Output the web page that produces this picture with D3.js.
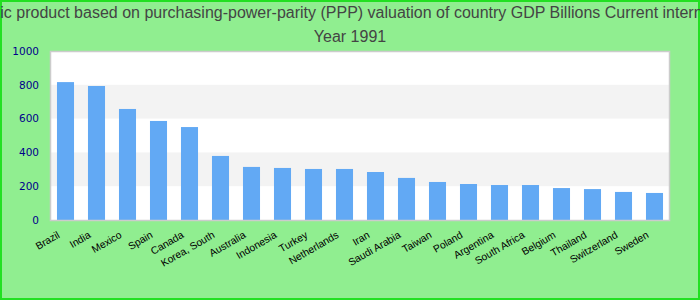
<!DOCTYPE html>
<html><head><meta charset="utf-8">
<script src="https://cdn.jsdelivr.net/npm/d3@7"></script>
<style>body{margin:0;padding:0;overflow:hidden}</style>
</head><body>
<svg id="c" width="700" height="300"></svg>
<script>
const titleLines = ["Gross domestic product based on purchasing-power-parity (PPP) valuation of country GDP Billions Current international dollar", "Year 1991"];
const categories = ["Brazil","India","Mexico","Spain","Canada","Korea, South","Australia","Indonesia","Turkey","Netherlands","Iran","Saudi Arabia","Taiwan","Poland","Argentina","South Africa","Belgium","Thailand","Switzerland","Sweden"];
const values = [816,793,657,586,550,379,314,308,302,302,284,249,225,213,207,207,189,183,166,160];
const yTicks = [0,200,400,600,800,1000];

const W=700,H=300;
const m={left:50,right:30,top:51,bottom:80};
const svg=d3.select("#c");
svg.append("rect").attr("x",1).attr("y",1).attr("width",W-2).attr("height",H-2)
  .attr("fill","#90ee90").attr("stroke","#22e022").attr("stroke-width",2);

const x=d3.scaleBand().domain(categories).range([m.left,W-m.right]).paddingInner(0.45).paddingOuter(0.225);
const y=d3.scaleLinear().domain([0,1000]).range([H-m.bottom,m.top]);

const g=svg.append("g");
g.append("rect").attr("x",m.left).attr("y",m.top).attr("width",W-m.left-m.right).attr("height",y(0)-m.top).attr("fill","#fff");
for(let i=0;i<yTicks.length-1;i++){
  if(i%2===1){
    g.append("rect").attr("x",m.left).attr("width",W-m.left-m.right)
     .attr("y",y(yTicks[i+1])).attr("height",y(yTicks[i])-y(yTicks[i+1])).attr("fill","#f3f3f3");
  }
}
g.selectAll(".bar").data(values).join("rect").attr("class","bar")
  .attr("x",(d,i)=>x(categories[i])).attr("width",x.bandwidth())
  .attr("y",d=>y(d)).attr("height",d=>y(0)-y(d)).attr("fill","#62a9f4");
g.append("rect").attr("x",m.left+0.5).attr("y",m.top+0.5).attr("width",W-m.left-m.right-1).attr("height",y(0)-m.top)
  .attr("fill","none").attr("stroke","#cccccc").attr("stroke-width",1.5);

const ya=d3.axisLeft(y).tickValues(yTicks).tickFormat(d3.format("d")).tickSize(0).tickPadding(11);
const yg=svg.append("g").attr("transform",`translate(${m.left},0)`).call(ya);
yg.select(".domain").remove();
yg.selectAll("text").attr("fill","#00008b").style("font-family","DejaVu Sans").style("font-size","10.5px");

const xa=d3.axisBottom(x).tickSize(0).tickPadding(0);
const xg=svg.append("g").attr("transform",`translate(0,${y(0)})`).call(xa);
xg.select(".domain").remove();
xg.selectAll("text").attr("fill","#000").style("font-family","Liberation Sans, Arial").style("font-size","10.3px")
  .attr("text-anchor","end").attr("dy",null).attr("y",0)
  .attr("transform","translate(-5,17) rotate(-30)");

const t=svg.append("g");
titleLines.forEach((s,i)=>{
  t.append("text").attr("x",i===0?W/2-3:W/2).attr("y",18+i*24).attr("text-anchor","middle")
   .attr("fill","#444").style("font-family","Liberation Sans, Arial").style("font-size","16px").text(s);
});
</script>
</body></html>
